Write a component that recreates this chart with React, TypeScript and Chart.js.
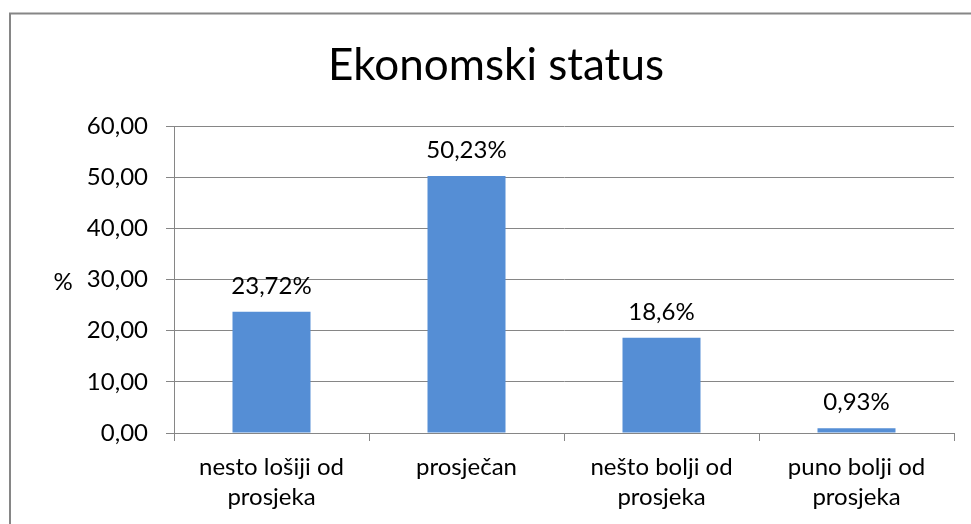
import React, { useEffect, useRef } from "react";
import { Chart, registerables } from "chart.js";

Chart.register(...registerables);

const titleText = "Ekonomski status";
const categories: string[][] = [
  ["nesto lošiji od", "prosjeka"],
  ["prosječan"],
  ["nešto bolji od", "prosjeka"],
  ["puno bolji od", "prosjeka"],
];
const values: number[] = [23.72, 50.23, 18.6, 0.93];
const yMin = 0;
const yMax = 60;
const yStep = 10;
const yAxisLabel = "%";

const FONT = "Lato";
const GRAY = "#868686";
const BAR = "#558ED5";

const fmtTick = (v: number) => v.toFixed(2).replace(".", ",");
const fmtLabel = (v: number) => String(v).replace(".", ",") + "%";

const framePlugin = {
  id: "frame",
  beforeDraw(chart: any) {
    const ctx = chart.ctx;
    ctx.save();
    ctx.fillStyle = "#ffffff";
    ctx.fillRect(0, 0, chart.width, chart.height);
    ctx.strokeStyle = GRAY;
    ctx.lineWidth = 2;
    ctx.strokeRect(10, 13.5, 2000, 2000);
    // chart title
    ctx.font = `44px ${FONT}`;
    ctx.fillStyle = "#000";
    ctx.textAlign = "center";
    ctx.textBaseline = "alphabetic";
    ctx.fillText(titleText, 496, 79.5);
    ctx.restore();
  },
};

const labelsPlugin = {
  id: "barLabels",
  afterDatasetsDraw(chart: any) {
    const ctx = chart.ctx;
    const meta = chart.getDatasetMeta(0);
    ctx.save();
    ctx.font = `24px ${FONT}`;
    ctx.fillStyle = "#000";
    ctx.textAlign = "center";
    ctx.textBaseline = "alphabetic";
    meta.data.forEach((bar: any, i: number) => {
      ctx.fillText(fmtLabel(values[i]), bar.x, bar.y - 18);
    });
    // y axis title (horizontal)
    const area = chart.chartArea;
    ctx.fillText(yAxisLabel, 63, (area.top + area.bottom) / 2 + 10);
    ctx.restore();
  },
};

export default function App() {
  const ref = useRef<HTMLCanvasElement | null>(null);
  useEffect(() => {
    if (!ref.current) return;
    const chart = new Chart(ref.current, {
      type: "bar",
      data: {
        labels: categories,
        datasets: [
          {
            data: values,
            backgroundColor: BAR,
            borderWidth: 0,
            categoryPercentage: 1,
            barPercentage: 0.4,
          },
        ],
      },
      plugins: [framePlugin, labelsPlugin],
      options: {
        responsive: false,
        animation: false,
        devicePixelRatio: 1,
        layout: { padding: { left: 0, right: 17, top: 126, bottom: 0 } },
        font: { family: FONT },
        plugins: {
          legend: { display: false },
          tooltip: { enabled: false },
          title: { display: false },
        },
        scales: {
          x: {
            grid: {
              drawOnChartArea: false,
              drawTicks: true,
              tickLength: 8,
              color: GRAY,
            },
            border: { display: true, color: GRAY, width: 1 },
            ticks: {
              color: "#000",
              font: { family: FONT, size: 24, lineHeight: 1.25 },
              padding: 11,
              maxRotation: 0,
              autoSkip: false,
            },
            afterFit: (s: any) => {
              s.height = 91;
            },
          },
          y: {
            min: yMin,
            max: yMax,
            grid: {
              color: GRAY,
              drawTicks: true,
              tickLength: 8,
            },
            border: { display: true, color: GRAY, width: 1 },
            ticks: {
              stepSize: yStep,
              color: "#000",
              font: { family: FONT, size: 24 },
              padding: 18,
              callback: (v: any) => fmtTick(Number(v)),
            },
            afterFit: (s: any) => {
              s.width = 174;
            },
          },
        },
      },
    } as any);
    return () => chart.destroy();
  }, []);
  return (
    <div style={{ position: "absolute", left: 0, top: 0, width: 971, height: 524 }}>
      <canvas ref={ref} width={971} height={524} style={{ display: "block" }} />
    </div>
  );
}
